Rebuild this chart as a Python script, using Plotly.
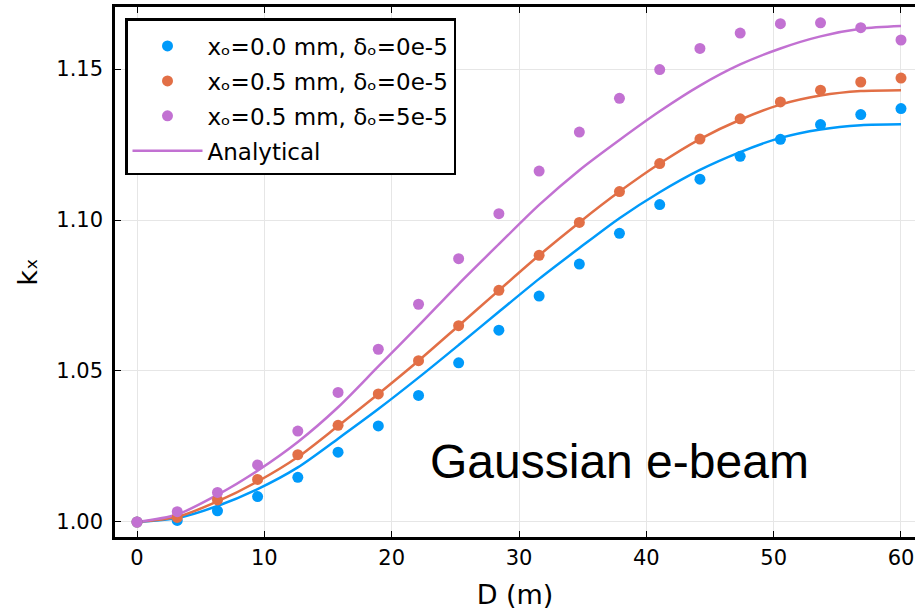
import plotly.graph_objects as go

# distances (m) of the sample points
D = [0.0, 3.16, 6.32, 9.47, 12.63, 15.79, 18.95, 22.11, 25.26, 28.42,
     31.58, 34.74, 37.89, 41.05, 44.21, 47.37, 50.53, 53.68, 56.84, 60.0]

# simulated points
k_x0_d0 = [1.0000, 1.0005, 1.0037, 1.0084, 1.0148, 1.0231, 1.0318, 1.0419, 1.0527, 1.0635,
           1.0748, 1.0854, 1.0956, 1.1051, 1.1135, 1.1211, 1.1267, 1.1316, 1.1349, 1.1369]
k_x5_d0 = [1.0000, 1.0015, 1.0073, 1.0141, 1.0223, 1.0320, 1.0424, 1.0534, 1.0650, 1.0767,
           1.0883, 1.0992, 1.1094, 1.1187, 1.1268, 1.1335, 1.1391, 1.1430, 1.1457, 1.1470]
k_x5_d5 = [1.0000, 1.0034, 1.0098, 1.0189, 1.0301, 1.0429, 1.0572, 1.0721, 1.0872, 1.1021,
           1.1162, 1.1291, 1.1403, 1.1498, 1.1568, 1.1619, 1.1650, 1.1653, 1.1637, 1.1596]

# analytical curves
an_x0_d0 = [1.0000, 1.0013, 1.0053, 1.0109, 1.0181, 1.0276, 1.0374, 1.0478, 1.0586, 1.0696,
            1.0805, 1.0907, 1.1006, 1.1092, 1.1166, 1.1225, 1.1272, 1.1300, 1.1314, 1.1317]
an_x5_d0 = [1.0000, 1.0017, 1.0068, 1.0134, 1.0215, 1.0318, 1.0424, 1.0534, 1.0650, 1.0767,
            1.0883, 1.0992, 1.1094, 1.1187, 1.1268, 1.1332, 1.1382, 1.1412, 1.1427, 1.1430]
an_x5_d5 = [1.0000, 1.0025, 1.0090, 1.0170, 1.0265, 1.0380, 1.0515, 1.0650, 1.0788, 1.0920,
            1.1050, 1.1165, 1.1265, 1.1360, 1.1445, 1.1515, 1.1568, 1.1608, 1.1633, 1.1642]

labels = ["xₒ=0.0 mm, δₒ=0e-5", "xₒ=0.5 mm, δₒ=0e-5", "xₒ=0.5 mm, δₒ=5e-5"]
colors = ["#009AFA", "#E26F46", "#C271D2"]

x_ticks = [0, 10, 20, 30, 40, 50, 60]
y_ticks = [1.00, 1.05, 1.10, 1.15]
y_tick_text = ["1.00", "1.05", "1.10", "1.15"]

fig = go.Figure()

for i, (ys, c) in enumerate(zip([an_x0_d0, an_x5_d0, an_x5_d5], colors)):
    fig.add_trace(go.Scatter(
        x=D, y=ys, mode="lines", line=dict(color=c, width=2.5, shape="spline", smoothing=0.8),
        name="Analytical", showlegend=(i == 2), legendrank=1004,
        legendgroup="g4"))

for i, (ys, c, lab) in enumerate(zip([k_x0_d0, k_x5_d0, k_x5_d5], colors, labels)):
    fig.add_trace(go.Scatter(
        x=D, y=ys, mode="markers", name=lab,
        marker=dict(color=c, size=11, line=dict(width=0)),
        legendrank=1001 + i, legendgroup="g%d" % i))

fig.add_annotation(x=37.9, y=1.0199, xref="x", yref="y", text="Gaussian e-beam",
                   showarrow=False, xanchor="center", yanchor="middle",
                   font=dict(family="Liberation Sans, Arial", size=48, color="black"))

axis_common = dict(
    showline=True, linecolor="black", linewidth=2.5,
    showgrid=True, gridcolor="#e6e6e6", gridwidth=1,
    zeroline=False, ticks="inside", ticklen=6, tickwidth=1.2, tickcolor="black",
    tickfont=dict(family="DejaVu Sans", size=21, color="black"),
    automargin=False,
)

fig.update_layout(
    width=915, height=610,
    margin=dict(l=115, r=0, t=7, b=73),
    paper_bgcolor="white", plot_bgcolor="white",
    font=dict(family="DejaVu Sans", color="black"),
    xaxis=dict(range=[-1.728, 61.1], tickvals=x_ticks, mirror="ticks",
               ticklabelstandoff=0,
               title=dict(text="D (m)", font=dict(size=27, family="DejaVu Sans"), standoff=18),
               **axis_common),
    yaxis=dict(range=[0.99503, 1.17053], tickvals=y_ticks, ticktext=y_tick_text,
               ticklabelstandoff=5,
               title=dict(text="kₓ", font=dict(size=27, family="DejaVu Sans"), standoff=11),
               **axis_common),
    legend=dict(x=0.0125, y=0.979, xanchor="left", yanchor="top",
                bgcolor="white", bordercolor="black", borderwidth=2.5,
                font=dict(family="DejaVu Sans", size=23, color="black"),
                title=dict(text=" ", font=dict(size=3)),
                itemwidth=70, tracegroupgap=2),
)

fig.write_html("out.html", config={"displayModeBar": False},
               post_script="document.body.style.margin='0';document.body.style.overflow='hidden';")
